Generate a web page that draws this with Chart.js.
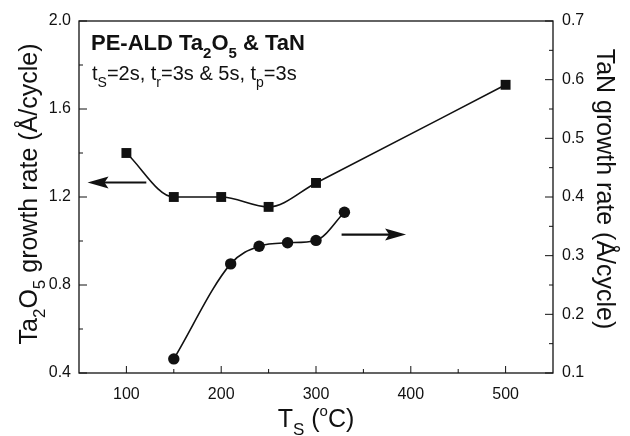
<!DOCTYPE html>
<html>
<head>
<meta charset="utf-8">
<script src="https://cdn.jsdelivr.net/npm/chart.js@4"></script>
<style>
  html, body { margin: 0; padding: 0; background: #fff; }
  #box { width: 630px; height: 436px; }
</style>
</head>
<body>
<div id="box"><canvas id="myCanvas" width="630" height="436"></canvas></div>
<script>
// Ta2O5 growth rate (left axis, squares)
var tempTa2O5 = [100, 150, 200, 250, 300, 500];
var rateTa2O5 = [1.40, 1.20, 1.20, 1.155, 1.264, 1.71];
// TaN growth rate (right axis, circles)
var tempTaN = [150, 210, 240, 270, 300, 330];
var rateTaN = [0.124, 0.286, 0.316, 0.322, 0.326, 0.374];

var xTicks = [100, 200, 300, 400, 500];
var xMinor = [100, 150, 200, 250, 300, 350, 400, 450, 500];
var leftTicks = [0.4, 0.8, 1.2, 1.6, 2.0];
var leftMinor = [0.6, 1.0, 1.4, 1.8];
var rightTicks = [0.1, 0.2, 0.3, 0.4, 0.5, 0.6, 0.7];
var rightMinor = [0.15, 0.25, 0.35, 0.45, 0.55, 0.65];

// arrows, in data units: [x from, x to, y value]
var arrowLeft = [121, 59, 1.266];   // points to the left axis
var arrowRight = [327, 395, 0.336]; // points to the right axis

var FONT = '"Liberation Sans", Arial, sans-serif';
var INK = '#111';

function toPts(xs, ys) {
  return xs.map(function (x, i) { return { x: x, y: ys[i] }; });
}

// a run of pieces [text, size, dy, bold]
function runWidth(ctx, parts) {
  var w = 0;
  parts.forEach(function (p) {
    ctx.font = (p[3] ? 'bold ' : '') + p[1] + 'px ' + FONT;
    w += ctx.measureText(p[0]).width;
  });
  return w;
}
function drawRun(ctx, parts, x, y) {
  parts.forEach(function (p) {
    ctx.font = (p[3] ? 'bold ' : '') + p[1] + 'px ' + FONT;
    ctx.fillText(p[0], x, y + p[2]);
    x += ctx.measureText(p[0]).width;
  });
}

function arrow(ctx, x1, x2, y) {
  var dir = x2 > x1 ? 1 : -1;
  ctx.beginPath();
  ctx.moveTo(x1, y);
  ctx.lineTo(x2 - dir * 14, y);
  ctx.lineWidth = 2.2;
  ctx.strokeStyle = INK;
  ctx.stroke();
  ctx.beginPath();
  ctx.moveTo(x2, y);
  ctx.lineTo(x2 - dir * 21, y - 6);
  ctx.lineTo(x2 - dir * 17, y);
  ctx.lineTo(x2 - dir * 21, y + 6);
  ctx.closePath();
  ctx.fillStyle = INK;
  ctx.fill();
}

var decor = {
  id: 'decor',
  afterDraw: function (chart) {
    var ctx = chart.ctx;
    var a = chart.chartArea;
    var sx = chart.scales.x, sl = chart.scales.y, sr = chart.scales.y1;
    ctx.save();
    // frame
    ctx.strokeStyle = INK;
    ctx.lineWidth = 1.3;
    ctx.strokeRect(a.left, a.top, a.right - a.left, a.bottom - a.top);
    // inward ticks
    ctx.lineWidth = 1;
    ctx.beginPath();
    xMinor.forEach(function (v) {
      var p = sx.getPixelForValue(v);
      var len = xTicks.indexOf(v) >= 0 ? 7 : 4;
      ctx.moveTo(p, a.bottom); ctx.lineTo(p, a.bottom - len);
    });
    leftTicks.concat(leftMinor).forEach(function (v) {
      var p = sl.getPixelForValue(v);
      var len = leftTicks.indexOf(v) >= 0 ? 8 : 4;
      ctx.moveTo(a.left, p); ctx.lineTo(a.left + len, p);
    });
    rightTicks.concat(rightMinor).forEach(function (v) {
      var p = sr.getPixelForValue(v);
      var len = rightTicks.indexOf(v) >= 0 ? 8 : 4;
      ctx.moveTo(a.right, p); ctx.lineTo(a.right - len, p);
    });
    ctx.stroke();

    // arrows
    arrow(ctx, sx.getPixelForValue(arrowLeft[0]), sx.getPixelForValue(arrowLeft[1]), sl.getPixelForValue(arrowLeft[2]));
    arrow(ctx, sx.getPixelForValue(arrowRight[0]), sx.getPixelForValue(arrowRight[1]), sr.getPixelForValue(arrowRight[2]));

    ctx.fillStyle = INK;
    ctx.textBaseline = 'alphabetic';
    ctx.textAlign = 'left';
    // annotation
    drawRun(ctx, [['PE-ALD Ta', 22, 0, true], ['2', 15, 8, true], ['O', 22, 0, true], ['5', 15, 8, true], [' & TaN', 22, 0, true]], a.left + 12, 50);
    drawRun(ctx, [['t', 20, 0], ['S', 14, 7], ['=2s, t', 20, 0], ['r', 14, 7], ['=3s & 5s, t', 20, 0], ['p', 14, 7], ['=3s', 20, 0]], a.left + 13, 80);

    // x title
    var xt = [['T', 25, 0], ['S', 17, 8], [' (', 25, 0], ['o', 15, -11], ['C)', 25, 0]];
    drawRun(ctx, xt, (a.left + a.right) / 2 - runWidth(ctx, xt) / 2, 427);

    // left title
    var lt = [['Ta', 25, 0], ['2', 17, 8], ['O', 25, 0], ['5', 17, 8], [' growth rate (\u00C5/cycle)', 25, 0]];
    ctx.save();
    ctx.translate(37, (a.top + a.bottom) / 2 - 3);
    ctx.rotate(-Math.PI / 2);
    drawRun(ctx, lt, -runWidth(ctx, lt) / 2, 0);
    ctx.restore();

    // right title
    var rt = [['TaN growth rate (\u00C5/cycle)', 25, 0]];
    ctx.save();
    ctx.translate(597, (a.top + a.bottom) / 2 - 8);
    ctx.rotate(Math.PI / 2);
    drawRun(ctx, rt, -runWidth(ctx, rt) / 2, 0);
    ctx.restore();

    ctx.restore();
  }
};

Chart.defaults.font.family = FONT;
Chart.defaults.color = INK;

var chart = new Chart(document.querySelector('#myCanvas').getContext('2d'), {
  type: 'scatter',
  data: {
    datasets: [
      {
        label: 'Ta2O5',
        data: toPts(tempTa2O5, rateTa2O5),
        yAxisID: 'y',
        showLine: true,
        cubicInterpolationMode: 'monotone',
        borderColor: INK,
        borderWidth: 1.6,
        pointStyle: 'rect',
        pointRadius: 7,
        pointBackgroundColor: INK,
        pointBorderWidth: 0
      },
      {
        label: 'TaN',
        data: toPts(tempTaN, rateTaN),
        yAxisID: 'y1',
        showLine: true,
        cubicInterpolationMode: 'monotone',
        borderColor: INK,
        borderWidth: 1.6,
        pointStyle: 'circle',
        pointRadius: 5.7,
        pointBackgroundColor: INK,
        pointBorderWidth: 0
      }
    ]
  },
  options: {
    responsive: false,
    animation: false,
    layout: { padding: { top: 21, left: 0, right: 0, bottom: 0 } },
    plugins: { legend: { display: false }, tooltip: { enabled: false } },
    scales: {
      x: {
        type: 'linear', min: 50, max: 550,
        afterBuildTicks: function (s) { s.ticks = xTicks.map(function (v) { return { value: v }; }); },
        afterFit: function (s) { s.height = 63; },
        grid: { display: false, drawTicks: false },
        border: { display: false },
        ticks: { font: { size: 16 }, padding: 12, maxRotation: 0 }
      },
      y: {
        position: 'left', min: 0.4, max: 2.0,
        afterBuildTicks: function (s) { s.ticks = leftTicks.map(function (v) { return { value: v }; }); },
        afterFit: function (s) { s.width = 79; },
        grid: { display: false, drawTicks: false },
        border: { display: false },
        ticks: { font: { size: 16 }, padding: 8, callback: function (v) { return v.toFixed(1); } }
      },
      y1: {
        position: 'right', min: 0.1, max: 0.7,
        afterBuildTicks: function (s) { s.ticks = rightTicks.map(function (v) { return { value: v }; }); },
        afterFit: function (s) { s.width = 77; },
        grid: { display: false, drawTicks: false },
        border: { display: false },
        ticks: { font: { size: 16 }, padding: 9, callback: function (v) { return v.toFixed(1); } }
      }
    }
  },
  plugins: [decor]
});
</script>
</body>
</html>
